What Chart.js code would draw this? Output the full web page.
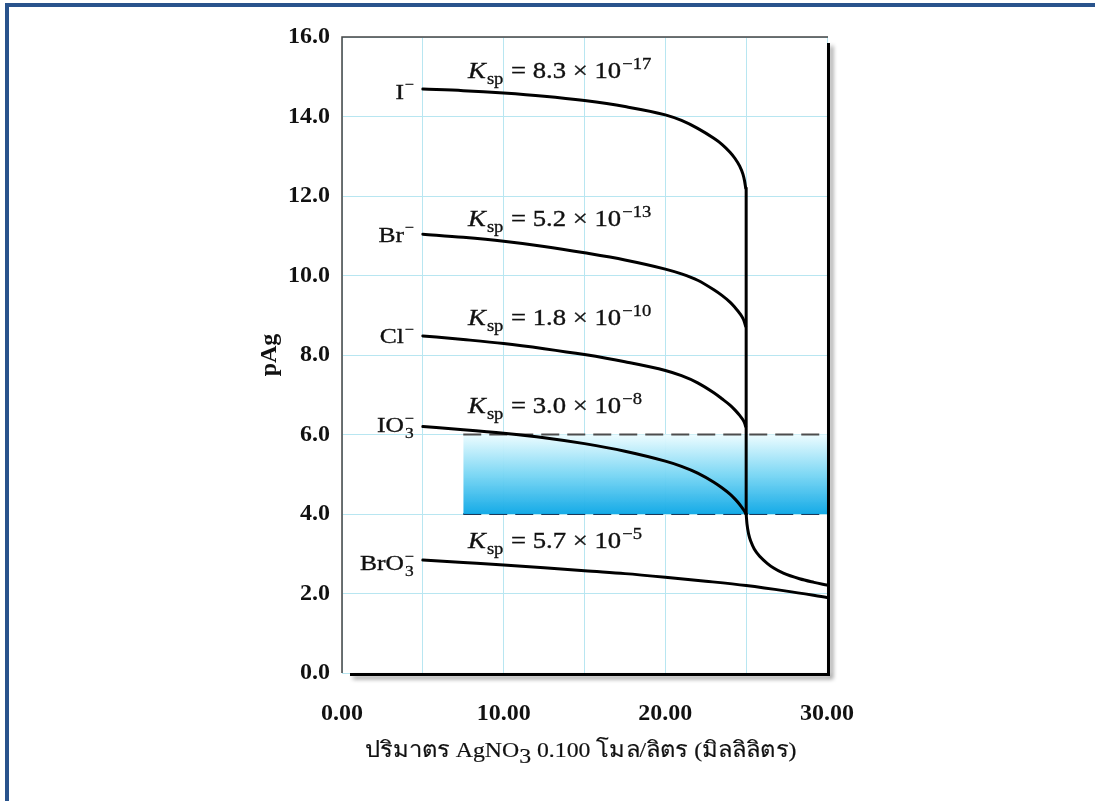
<!DOCTYPE html>
<html>
<head>
<meta charset="utf-8">
<script src="https://cdn.jsdelivr.net/npm/chart.js@4.4.1/dist/chart.umd.min.js"></script>
<style>
html, body { margin: 0; padding: 0; background: #ffffff; overflow: hidden; }
#frame { position: absolute; left: 5px; top: 3px; width: 1200px; height: 900px;
         border-left: 4px solid #29538c; border-top: 4px solid #29538c; background: #fff; }
#wrap { position: absolute; left: 0; top: 0; width: 1095px; height: 801px; }
</style>
</head>
<body>
<div id="frame"></div>
<div id="wrap"><canvas id="c" width="1095" height="801"></canvas></div>
<script>
// ---------- data ----------
const iodideVol   = [5, 7.5, 10, 12.5, 15, 17.5, 20, 21, 22, 23, 23.5, 24, 24.3, 24.6, 24.8, 24.9, 24.97];
const iodidePAg   = [14.69, 14.65, 14.59, 14.51, 14.40, 14.25, 14.04, 13.90, 13.70, 13.45, 13.30, 13.10, 12.95, 12.75, 12.55, 12.38, 12.20];

const bromideVol  = [5, 7.5, 10, 12.5, 15, 17.5, 20, 21, 22, 23, 23.5, 24, 24.3, 24.6, 24.8, 24.9, 24.97];
const bromidePAg  = [11.04, 10.96, 10.86, 10.73, 10.57, 10.39, 10.16, 10.04, 9.88, 9.64, 9.50, 9.33, 9.20, 9.05, 8.92, 8.82, 8.72];

const chlorideVol = [5, 7.5, 10, 12.5, 15, 17.5, 20, 21, 22, 23, 23.5, 24, 24.3, 24.6, 24.8, 24.9, 24.97];
const chloridePAg = [8.48, 8.39, 8.29, 8.16, 8.01, 7.83, 7.61, 7.48, 7.30, 7.05, 6.90, 6.74, 6.62, 6.48, 6.37, 6.29, 6.20];

const iodateVol   = [5, 7.5, 10, 12.5, 15, 17.5, 20, 21, 22, 23, 23.5, 24, 24.3, 24.6, 24.8, 24.9, 25];
const iodatePAg   = [6.20, 6.12, 6.03, 5.92, 5.77, 5.58, 5.33, 5.20, 5.03, 4.80, 4.66, 4.50, 4.38, 4.24, 4.13, 4.07, 3.99];

const bromateVol  = [5, 7.5, 10, 12.5, 15, 17.5, 20, 22.5, 25, 27.5, 30];
const bromatePAg  = [2.84, 2.78, 2.72, 2.65, 2.57, 2.50, 2.41, 2.31, 2.20, 2.06, 1.90];

const eqDropVol   = [25, 25];
const eqDropPAg   = [12.20, 4.00];

const excessVol   = [25, 25.05, 25.15, 25.3, 25.5, 25.85, 26.3, 26.7, 27.3, 28.3, 29.2, 30];
const excessPAg   = [4.00, 3.75, 3.50, 3.30, 3.12, 2.93, 2.76, 2.64, 2.51, 2.37, 2.28, 2.21];

const bandVol       = [7.5, 30];
const bandTopPAg    = [6.0, 6.0];
const bandBottomPAg = [4.0, 4.0];

const ionNames   = ['I', 'Br', 'Cl', 'IO', 'BrO'];
const ionSubs    = ['', '', '', '3', '3'];
const ionLabelY  = [14.63, 11.04, 8.48, 6.24, 2.77];
const kspMantissa = ['8.3', '5.2', '1.8', '3.0', '5.7'];
const kspExponent = ['\u221217', '\u221213', '\u221210', '\u22128', '\u22125'];
const kspLabelY   = [15.18, 11.45, 8.96, 6.74, 3.35];

const xTickValues = [0, 10, 20, 30];
const yTickValues = [0, 2, 4, 6, 8, 10, 12, 14, 16];
const xTitleParts = ['ปริมาตร AgNO', '3', ' 0.100 โมล/ลิตร (มิลลิลิตร)'];
const yTitle = 'pAg';

// ---------- helpers ----------
const mk = (xs, ys) => xs.map((x, i) => ({ x: x, y: ys[i] }));
const SERIF = '"Liberation Serif", "DejaVu Serif", serif';
const SX = 1.16;
const ION_X = 3.83;
const KSP_X = 7.8;

function drawStr(ctx, s, x, y, font, align, sx, heavy) {
  sx = sx || SX;
  ctx.save();
  ctx.font = font;
  const w = ctx.measureText(s).width * sx;
  let x0 = x;
  if (align === 'right') x0 = x - w;
  else if (align === 'center') x0 = x - w / 2;
  ctx.translate(x0, y);
  ctx.scale(sx, 1);
  ctx.textAlign = 'left';
  ctx.textBaseline = 'alphabetic';
  ctx.fillStyle = '#111';
  ctx.fillText(s, 0, 0);
  if (heavy) { ctx.strokeStyle = '#111'; ctx.lineWidth = heavy; ctx.strokeText(s, 0, 0); }
  ctx.restore();
  return w;
}

const curve = {
  borderColor: '#000', borderWidth: 3, pointRadius: 0, fill: false,
  cubicInterpolationMode: 'monotone', borderCapStyle: 'round', borderJoinStyle: 'round'
};

function bandGradient(context) {
  const chart = context.chart;
  const area = chart.chartArea;
  if (!area) return 'rgba(20,170,230,0.6)';
  const ys = chart.scales.y;
  const g = chart.ctx.createLinearGradient(0, ys.getPixelForValue(bandTopPAg[0]), 0, ys.getPixelForValue(bandBottomPAg[0]));
  g.addColorStop(0, 'rgba(236,252,255,0.95)');
  g.addColorStop(0.5, 'rgba(120,214,244,0.95)');
  g.addColorStop(1, 'rgba(14,168,230,0.97)');
  return g;
}

const annotations = {
  id: 'annotations',
  afterDraw(chart) {
    const ctx = chart.ctx;
    const xs = chart.scales.x, ys = chart.scales.y;
    const a = chart.chartArea;

    // plot frame: thin top/left, heavy shadowed right/bottom
    ctx.save();
    ctx.strokeStyle = '#444'; ctx.lineWidth = 1.5;
    ctx.beginPath();
    ctx.moveTo(a.left, a.bottom); ctx.lineTo(a.left, a.top); ctx.lineTo(a.right + 1, a.top);
    ctx.stroke();
    ctx.shadowColor = 'rgba(0,0,0,0.45)'; ctx.shadowBlur = 4; ctx.shadowOffsetX = 3; ctx.shadowOffsetY = 3;
    ctx.strokeStyle = '#000'; ctx.lineWidth = 3;
    ctx.beginPath();
    ctx.moveTo(a.right + 1.5, a.top + 6); ctx.lineTo(a.right + 1.5, a.bottom + 1.5); ctx.lineTo(a.left + 8, a.bottom + 1.5);
    ctx.stroke();
    ctx.restore();

    // ion labels
    for (let i = 0; i < ionNames.length; i++) {
      const px = xs.getPixelForValue(ION_X);
      const py = ys.getPixelForValue(ionLabelY[i]);
      drawStr(ctx, ionNames[i], px, py + 7.5, '22px ' + SERIF, 'right', SX, 0.35);
      drawStr(ctx, '\u2212', px + 1, py - 2, '14px ' + SERIF, 'left', SX, 0.3);
      if (ionSubs[i]) drawStr(ctx, ionSubs[i], px + 1, py + 13, '15px ' + SERIF, 'left', SX, 0.3);
    }

    // Ksp labels
    for (let i = 0; i < kspMantissa.length; i++) {
      let x = xs.getPixelForValue(KSP_X);
      const b = ys.getPixelForValue(kspLabelY[i]) + 8;
      x += drawStr(ctx, 'K', x, b, 'italic 23px ' + SERIF, 'left', SX, 0.35);
      x += drawStr(ctx, 'sp', x + 1, b + 6, '16px ' + SERIF, 'left', SX, 0.3) + 2;
      x += drawStr(ctx, ' = ' + kspMantissa[i] + ' \u00d7 10', x, b, '23px ' + SERIF, 'left', SX, 0.35);
      drawStr(ctx, kspExponent[i], x + 1, b - 9, '16px ' + SERIF, 'left', SX, 0.3);
    }

    // x-axis title with subscript
    const TSX = 1.08;
    const fMain = '22px ' + SERIF;
    ctx.save();
    ctx.font = fMain;
    const w0 = ctx.measureText(xTitleParts[0]).width * TSX;
    const w1 = ctx.measureText(xTitleParts[1]).width * TSX;
    const w2 = ctx.measureText(xTitleParts[2]).width * TSX;
    ctx.restore();
    let tx = (a.left + a.right) / 2 - (w0 + w1 + w2) / 2 - 4;
    const tb = 757;
    tx += drawStr(ctx, xTitleParts[0], tx, tb, fMain, 'left', TSX, 0.2);
    tx += drawStr(ctx, xTitleParts[1], tx, tb + 6, fMain, 'left', TSX, 0.2);
    drawStr(ctx, xTitleParts[2], tx, tb, fMain, 'left', TSX, 0.2);
  }
};

new Chart(document.getElementById('c'), {
  type: 'line',
  data: {
    datasets: [
      Object.assign({ label: 'I\u2212', data: mk(iodideVol, iodidePAg) }, curve),
      Object.assign({ label: 'Br\u2212', data: mk(bromideVol, bromidePAg) }, curve),
      Object.assign({ label: 'Cl\u2212', data: mk(chlorideVol, chloridePAg) }, curve),
      Object.assign({ label: 'IO3\u2212', data: mk(iodateVol, iodatePAg) }, curve),
      Object.assign({ label: 'BrO3\u2212', data: mk(bromateVol, bromatePAg) }, curve),
      Object.assign({ label: 'equivalence', data: mk(eqDropVol, eqDropPAg) }, curve, { cubicInterpolationMode: 'default', tension: 0 }),
      Object.assign({ label: 'excess Ag+', data: mk(excessVol, excessPAg) }, curve),
      { label: 'pAg 6.0', data: mk(bandVol, bandTopPAg), borderColor: '#4d4d4d', borderWidth: 2,
        borderDash: [18, 8], pointRadius: 0, tension: 0, fill: '+1', backgroundColor: bandGradient },
      { label: 'pAg 4.0', data: mk(bandVol, bandBottomPAg), borderColor: '#1c3859', borderWidth: 2.2,
        borderDash: [18, 8], pointRadius: 0, tension: 0, fill: false }
    ]
  },
  options: {
    responsive: false,
    animation: false,
    devicePixelRatio: 1,
    layout: { padding: { left: 251, right: 268, top: 37, bottom: 0 } },
    plugins: { legend: { display: false }, tooltip: { enabled: false } },
    scales: {
      x: {
        type: 'linear', min: 0, max: 30,
        afterFit(s) { s.height = 128; },
        border: { display: false },
        grid: { color: '#b8e6f1', lineWidth: 1, drawTicks: false },
        ticks: {
          stepSize: 5, padding: 26, color: '#111',
          font: { family: SERIF, size: 24, weight: 'bold' },
          callback: (v) => xTickValues.includes(v) ? v.toFixed(2) : ''
        }
      },
      y: {
        min: 0, max: 16,
        afterFit(s) { s.width = 91; },
        border: { display: false },
        grid: { color: '#b8e6f1', lineWidth: 1, drawTicks: false },
        ticks: {
          stepSize: 2, padding: 12, color: '#111',
          font: { family: SERIF, size: 24, weight: 'bold' },
          callback: (v) => yTickValues.includes(v) ? v.toFixed(1) : ''
        },
        title: { display: true, text: yTitle, color: '#111',
                 font: { family: SERIF, size: 24, weight: 'bold' } }
      }
    }
  },
  plugins: [annotations]
});
</script>
</body>
</html>
